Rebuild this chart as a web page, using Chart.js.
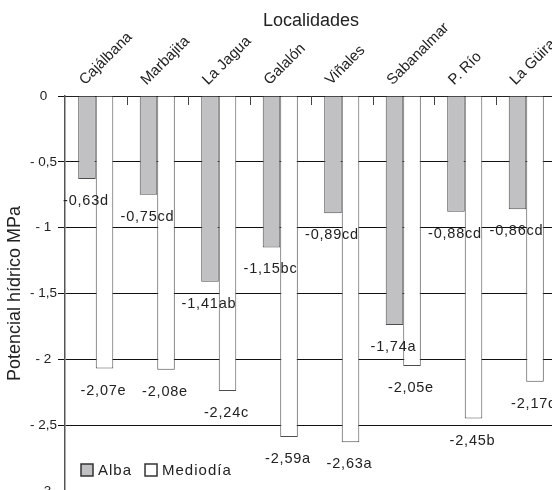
<!DOCTYPE html>
<html>
<head>
<meta charset="utf-8">
<script src="https://cdn.jsdelivr.net/npm/chart.js@4/dist/chart.umd.min.js"></script>
<style>
  html, body { margin: 0; padding: 0; background: #fff; overflow: hidden; }
  #wrap { position: relative; width: 557px; height: 491px; }
</style>
</head>
<body>
<div id="wrap"><canvas id="chart"></canvas></div>
<script>
// data
const localidades = ['Cajálbana', 'Marbajita', 'La Jagua', 'Galalón', 'Viñales', 'Sabanalmar', 'P. Río', 'La Güira'];
const alba = [-0.63, -0.75, -1.41, -1.15, -0.89, -1.74, -0.88, -0.86];
const mediodia = [-2.07, -2.08, -2.24, -2.59, -2.63, -2.05, -2.45, -2.17];
const albaLabels = ['-0,63d', '-0,75cd', '-1,41ab', '-1,15bc', '-0,89cd', '-1,74a', '-0,88cd', '-0,86cd'];
const mediodiaLabels = ['-2,07e', '-2,08e', '-2,24c', '-2,59a', '-2,63a', '-2,05e', '-2,45b', '-2,17d'];
const yTicks = [0, -0.5, -1, -1.5, -2, -2.5, -3];
const yTickLabels = ['0', '- 0,5', '- 1', '- 1,5', '- 2', '- 2,5', '- 3'];

const FONT = "'Liberation Sans', Arial, sans-serif";
const INK = '#222';

// value labels under each bar
const barLabels = {
    id: 'barLabels',
    afterDatasetsDraw(chart) {
        const ctx = chart.ctx;
        const texts = [albaLabels, mediodiaLabels];
        ctx.save();
        ctx.font = '14.5px ' + FONT;
        ctx.letterSpacing = '0.8px';
        ctx.fillStyle = INK;
        ctx.textAlign = 'center';
        ctx.textBaseline = 'middle';
        texts.forEach((list, d) => {
            chart.getDatasetMeta(d).data.forEach((bar, i) => {
                ctx.fillText(list[i], bar.x - 1, bar.y + 22);
            });
        });
        ctx.restore();
    }
};

// small tick marks hanging from the top axis between groups
const groupTicks = {
    id: 'groupTicks',
    afterDatasetsDraw(chart) {
        const ctx = chart.ctx;
        const x = chart.scales.x;
        const top = chart.chartArea.top;
        const step = x.width / localidades.length;
        ctx.save();
        ctx.strokeStyle = '#444';
        ctx.lineWidth = 1;
        for (let i = 1; i < localidades.length; i++) {
            const px = Math.round(x.getPixelForValue(i) - step / 2) + 0.5;
            ctx.beginPath();
            ctx.moveTo(px, top);
            ctx.lineTo(px, top + 9);
            ctx.stroke();
        }
        ctx.restore();
    }
};

// legend sitting inside the plot, bottom left
const insideLegend = {
    id: 'insideLegend',
    afterDraw(chart) {
        const ctx = chart.ctx;
        const area = chart.chartArea;
        let x = area.left + 16;
        const y = area.bottom - 21;
        ctx.save();
        ctx.font = '15px ' + FONT;
        ctx.letterSpacing = '1px';
        ctx.textBaseline = 'middle';
        chart.data.datasets.forEach(ds => {
            ctx.fillStyle = ds.backgroundColor;
            ctx.fillRect(x, y - 6, 12, 12);
            ctx.strokeStyle = '#333';
            ctx.lineWidth = 1.5;
            ctx.strokeRect(x, y - 6, 12, 12);
            ctx.fillStyle = INK;
            ctx.fillText(ds.label, x + 17, y + 0.5);
            x += 17 + ctx.measureText(ds.label).width + 13;
        });
        ctx.restore();
    }
};

new Chart(document.getElementById('chart'), {
    type: 'bar',
    data: {
        labels: localidades,
        datasets: [
            {
                label: 'Alba',
                data: alba,
                backgroundColor: '#c1c1c3',
                borderColor: '#4d4d4d',
                borderWidth: 1
            },
            {
                label: 'Mediodía',
                data: mediodia,
                backgroundColor: '#ffffff',
                borderColor: '#4d4d4d',
                borderWidth: 1
            }
        ]
    },
    options: {
        responsive: true,
        maintainAspectRatio: false,
        animation: false,
        devicePixelRatio: 1,
        layout: {padding: 0},
        categoryPercentage: 0.57,
        barPercentage: 1,
        plugins: {
            legend: {display: false},
            tooltip: {enabled: false}
        },
        scales: {
            x: {
                position: 'top',
                grid: {display: false, drawTicks: false},
                border: {display: true, color: INK, width: 1},
                ticks: {
                    autoSkip: false,
                    minRotation: 45,
                    maxRotation: 45,
                    labelOffset: -1,
                    padding: 7,
                    color: INK,
                    font: {family: FONT, size: 15}
                },
                title: {
                    display: true,
                    text: 'Localidades',
                    color: INK,
                    font: {family: FONT, size: 18},
                    padding: {top: 10, bottom: 0}
                },
                afterFit(scale) {
                    scale.height = 96;
                    scale.paddingLeft = 0;
                    scale.paddingRight = 0;
                }
            },
            y: {
                min: -3,
                max: 0,
                afterBuildTicks(scale) {
                    scale.ticks = yTicks.map(v => ({value: v}));
                },
                grid: {
                    color: '#111',
                    lineWidth: 1,
                    tickLength: 7,
                    drawTicks: true
                },
                border: {display: true, color: '#555', width: 1.5},
                ticks: {
                    crossAlign: 'center',
                    padding: 1,
                    color: INK,
                    font: {family: FONT, size: 13.5},
                    callback: (value) => yTickLabels[yTicks.indexOf(value)]
                },
                title: {
                    display: true,
                    text: 'Potencial hídrico MPa',
                    color: INK,
                    font: {family: FONT, size: 18},
                    padding: {top: 4, bottom: 0}
                },
                afterFit(scale) {
                    scale.width = 65;
                    scale.paddingTop = 0;
                    scale.paddingBottom = 0;
                }
            }
        }
    },
    plugins: [barLabels, groupTicks, insideLegend]
});
</script>
</body>
</html>
